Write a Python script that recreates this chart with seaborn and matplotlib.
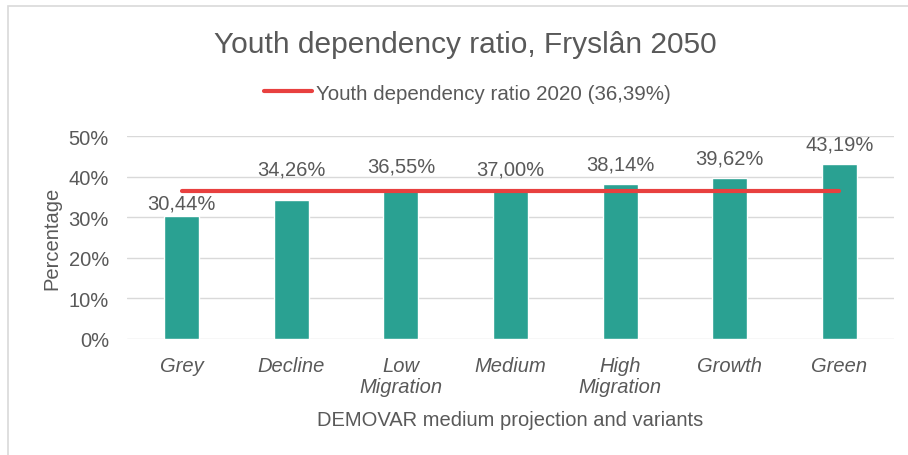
import matplotlib
matplotlib.use("Agg")
import matplotlib.pyplot as plt
from matplotlib.lines import Line2D
from matplotlib.patches import Rectangle
import seaborn as sns
import pandas as pd
import numpy as np

categories = ["Grey", "Decline", "Low\nMigration", "Medium", "High\nMigration", "Growth", "Green"]
values = [30.44, 34.26, 36.55, 37.00, 38.14, 39.62, 43.19]
reference_2020 = 36.39
yticks = [0, 10, 20, 30, 40, 50]

title = "Youth dependency ratio, Fryslân 2050"
legend_label = "Youth dependency ratio 2020 (36,39%)"
xlabel = "DEMOVAR medium projection and variants"
ylabel = "Percentage"

# label offsets above bar tops (pixels), as manually placed in the original
label_offsets_px = [13, 31, 25, 20, 20, 20, 20]

BAR = "#2AA192"
RED = "#E8403F"
TXT = "#595959"
GRID = "#D9D9D9"

sns.set_theme(style="white")
plt.rcParams["font.family"] = ["Liberation Sans", "DejaVu Sans"]

W, H = 908, 456
fig = plt.figure(figsize=(W / 100, H / 100), dpi=100)
ax = fig.add_axes([127 / W, 1 - 340 / H, (894 - 127) / W, (340 - 137.3) / H])

df = pd.DataFrame({"variant": categories, "ratio": values})
sns.barplot(data=df, x="variant", y="ratio", color=BAR, saturation=1, width=0.32,
            ax=ax, zorder=3)

pos = np.arange(len(categories))
ax.plot(pos, [reference_2020] * len(categories), color=RED, lw=3.0,
        solid_capstyle="round", zorder=4)

ax.set_ylim(0, 50)
ax.set_xlim(-0.5, len(categories) - 0.5)
ax.set_yticks(yticks)
ax.set_yticklabels([f"{t}%" for t in yticks])
ax.yaxis.grid(True, color=GRID, lw=1.0, zorder=0)
ax.set_axisbelow(True)
for s in ax.spines.values():
    s.set_visible(False)

ax.tick_params(axis="y", length=0, pad=13, labelsize=14.5, labelcolor=TXT)
ax.tick_params(axis="x", length=0, pad=12, labelsize=14.5, labelcolor=TXT)
for lbl in ax.get_xticklabels():
    lbl.set_fontstyle("italic")
    lbl.set_linespacing(1.15)

for i, v in enumerate(values):
    ax.annotate(f"{v:.2f}%".replace(".", ","), xy=(i, v),
                xytext=(0, label_offsets_px[i] * 0.72), textcoords="offset points",
                ha="center", va="center", fontsize=14.5, color=TXT, zorder=5)

ax.set_xlabel(xlabel, fontsize=14.5, color=TXT)
ax.xaxis.set_label_coords(0.5, -(421 - 340) / 202.7)
ax.xaxis.label.set_va("center")
ax.set_ylabel(ylabel, fontsize=14.5, color=TXT)
ax.yaxis.set_label_coords((51.7 - 127) / 767, 0.5)
ax.yaxis.label.set_va("center")

fig.text(465 / W, 1 - 45 / H, title, ha="center", va="center", fontsize=21.5, color=TXT)

handle = Line2D([0], [0], color=RED, lw=3.0, solid_capstyle="round")
fig.legend([handle], [legend_label], loc="center", bbox_to_anchor=(467.5 / W, 1 - 94 / H),
           frameon=False, fontsize=14.8, labelcolor=TXT, handlelength=2.3,
           handletextpad=0.2, borderpad=0)

fig.add_artist(Rectangle((8 / W, -0.1), 1.2, 1 - 7 / H + 0.1, transform=fig.transFigure,
                         fill=False, edgecolor=GRID, lw=1.2, clip_on=False))

fig.savefig("out.png", dpi=100, facecolor="white")
